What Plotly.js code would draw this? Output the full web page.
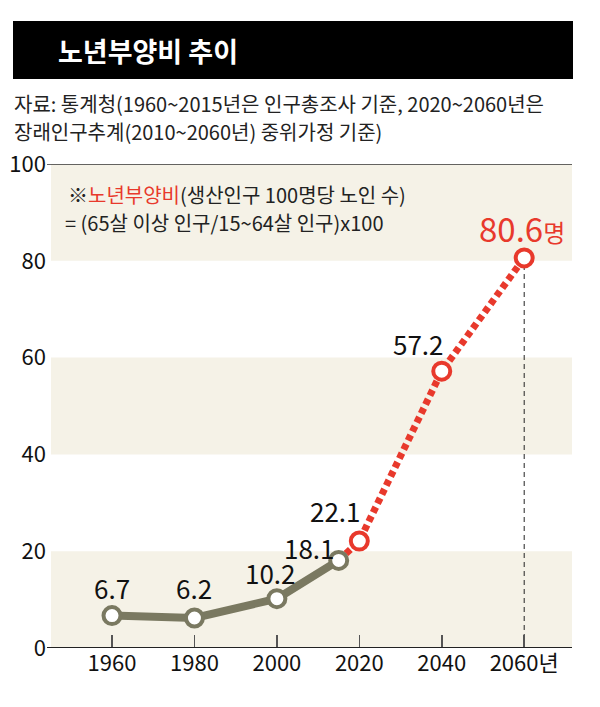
<!DOCTYPE html>
<html>
<head>
<meta charset="utf-8">
<script src="https://cdn.plot.ly/plotly-3.0.1.min.js"></script>
<style>html,body{margin:0;padding:0;background:#fff;}#chart{width:600px;height:707px;}</style>
</head>
<body>
<div id="chart"></div>
<script>
// ---- data ----
const obsYears = [1960, 1980, 2000, 2015];
const obsValues = [6.7, 6.2, 10.2, 18.1];
const projYears = [2015, 2020, 2040, 2060];
const projValues = [18.1, 22.1, 57.2, 80.6];
const obsLabels = ['6.7', '6.2', '10.2', '18.1'];
const projLabels = ['22.1', '57.2', '80.6명'];
const xTickVals = [1960, 1980, 2000, 2020, 2040, 2060];
const xTickText = ['1960', '1980', '2000', '2020', '2040', '2060년'];
const yTickVals = [0, 20, 40, 60, 80, 100];
const bandRanges = [[0, 20], [40, 60], [80, 100]];

const FONT = 'Noto Sans CJK KR, sans-serif';
const KFONT = 'Noto Sans CJK KR, sans-serif';
const OLIVE = '#7a7961';
const RED = '#e8392c';

// geometry helpers (plot area: x 51..572, y 164..648 px)
const L = 51, R = 28, T = 164, B = 59, W = 600, H = 707;
const pw = W - L - R, ph = H - T - B;
const px = v => (v - L) / pw;
const py = v => (H - B - v) / ph;

const traces = [
  { x: projYears, y: projValues, mode: 'lines', line: { color: RED, width: 7, dash: '6px,4px' }, hoverinfo: 'skip' },
  { x: obsYears, y: obsValues, mode: 'lines+markers', line: { color: OLIVE, width: 8 },
    marker: { size: 17, color: '#fff', line: { color: OLIVE, width: 4 } }, hoverinfo: 'skip' },
  { x: projYears.slice(1), y: projValues.slice(1), mode: 'markers',
    marker: { size: 17, color: '#fff', line: { color: RED, width: 4 } }, hoverinfo: 'skip' }
];

const shapes = bandRanges.map(r => ({
  type: 'rect', xref: 'paper', yref: 'y', x0: 0, x1: 1, y0: r[0], y1: r[1],
  fillcolor: '#f5f2e7', line: { width: 0 }, layer: 'below'
}));
shapes.push({ type: 'line', xref: 'paper', yref: 'y', x0: px(47), x1: 1, y0: 100, y1: 100, line: { color: '#333', width: 1.5 } });
shapes.push({ type: 'line', xref: 'paper', yref: 'y', x0: px(47), x1: 1, y0: 0, y1: 0, line: { color: '#222', width: 2 } });
shapes.push({ type: 'line', xref: 'x', yref: 'y', x0: projYears[3], x1: projYears[3], y0: 0, y1: projValues[3], line: { color: '#222', width: 1, dash: '5px,4px' }, layer: 'below' });
// title bar
shapes.push({ type: 'rect', xref: 'paper', yref: 'paper', x0: px(13), x1: px(573), y0: py(79), y1: py(21), fillcolor: '#000', line: { width: 0 } });

const obsOffsets = [[0, 28], [0, 30], [-6, 26], [-29, 13]];
const projOffsets = [[-24, 31], [-23, 28], [-2, 30]];
const annotations = [];
obsYears.forEach((yr, i) => annotations.push({
  x: yr, y: obsValues[i], xref: 'x', yref: 'y', text: obsLabels[i], showarrow: false,
  xshift: obsOffsets[i][0], yshift: obsOffsets[i][1], font: { family: FONT, size: 26, color: '#111' }
}));
projYears.slice(1).forEach((yr, i) => {
  const last = i === projLabels.length - 1;
  annotations.push({
    x: yr, y: projValues[i + 1], xref: 'x', yref: 'y',
    text: last ? '80.6<span style="font-size:24px">명</span>' : projLabels[i], showarrow: false,
    xshift: projOffsets[i][0], yshift: projOffsets[i][1],
    font: { family: FONT, size: last ? 33 : 26, color: last ? RED : '#111' }
  });
});
annotations.push(
  { xref: 'paper', yref: 'paper', x: px(56), y: py(50), xanchor: 'left', yanchor: 'middle', showarrow: false,
    text: '<b>노년부양비 추이</b>', font: { family: KFONT, size: 27, color: '#fff' } },
  { xref: 'paper', yref: 'paper', x: px(12), y: py(103), xanchor: 'left', yanchor: 'middle', showarrow: false,
    text: '자료: 통계청(1960~2015년은 인구총조사 기준, 2020~2060년은', font: { family: KFONT, size: 20, color: '#222' } },
  { xref: 'paper', yref: 'paper', x: px(12), y: py(131), xanchor: 'left', yanchor: 'middle', showarrow: false,
    text: '장래인구추계(2010~2060년) 중위가정 기준)', font: { family: KFONT, size: 20, color: '#222' } },
  { xref: 'paper', yref: 'paper', x: px(66), y: py(194), xanchor: 'left', yanchor: 'middle', showarrow: false,
    text: '※<span style="color:' + RED + '">노년부양비</span>(생산인구 100명당 노인 수)', font: { family: KFONT, size: 20, color: '#222' } },
  { xref: 'paper', yref: 'paper', x: px(63), y: py(222), xanchor: 'left', yanchor: 'middle', showarrow: false,
    text: '= (65살 이상 인구/15~64살 인구)x100', font: { family: KFONT, size: 20, color: '#222' } }
);

const layout = {
  width: W, height: H,
  margin: { l: L, r: R, t: T, b: B },
  paper_bgcolor: '#fff', plot_bgcolor: 'rgba(0,0,0,0)',
  showlegend: false,
  xaxis: {
    range: [1945.2, 2071.6], tickvals: xTickVals, ticktext: xTickText,
    ticks: 'inside', ticklen: 13, tickwidth: 1.5, tickcolor: '#555',
    showgrid: false, zeroline: false, showline: false,
    tickfont: { family: FONT, size: 22, color: '#111' }, fixedrange: true
  },
  yaxis: {
    range: [0, 100], tickvals: yTickVals, ticks: '', showgrid: false, zeroline: false, showline: false,
    ticklabelstandoff: 4,
    tickfont: { family: FONT, size: 22, color: '#111' }, fixedrange: true
  },
  shapes: shapes,
  annotations: annotations
};

Plotly.newPlot('chart', traces, layout, { displayModeBar: false, staticPlot: true });
</script>
</body>
</html>
